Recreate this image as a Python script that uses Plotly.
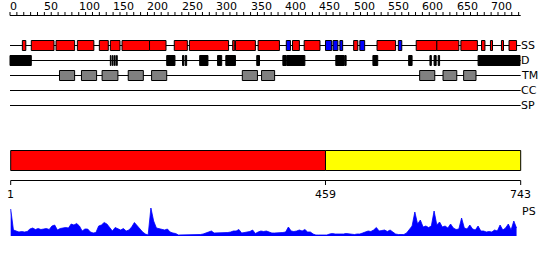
import plotly.graph_objects as go

# ---------------- data ----------------
seq_len = 743
ruler_ticks = list(range(0, 741, 10))
ruler_labels = [0, 50, 100, 150, 200, 250, 300, 350, 400, 450, 500, 550, 600, 650, 700]

# secondary structure: start, end, type (H = helix red, E = strand blue)
ss_start = [18, 31, 67, 98, 130, 146, 163, 203, 239, 261, 324, 328, 361, 402, 411, 428, 459, 470, 480,
            500, 509, 534, 565, 591, 621, 656, 686, 699, 715, 726]
ss_end = [23, 64, 94, 122, 143, 160, 203, 227, 258, 318, 327, 357, 392, 408, 421, 451, 468, 477, 484,
          506, 516, 561, 570, 621, 653, 680, 691, 702, 718, 737]
ss_type = ["H", "H", "H", "H", "H", "H", "H", "H", "H", "H", "H", "H", "H", "E", "H", "H", "E", "E", "E",
           "H", "E", "H", "E", "H", "H", "H", "H", "H", "H", "H"]

# disorder
d_start = [0, 146, 149, 152, 155, 228, 251, 255, 276, 302, 314, 359, 397, 403, 474, 487, 528, 580, 611, 617, 623, 681]
d_end = [31, 147, 150, 153, 156, 240, 253, 257, 288, 308, 328, 363, 402, 429, 486, 489, 535, 585, 613, 620, 625, 742]

# transmembrane
tm_start = [72, 104, 134, 172, 206, 338, 366, 596, 630, 660]
tm_end = [94, 126, 157, 194, 228, 360, 385, 618, 650, 678]

# domain bar
dom_start = [1, 459]
dom_end = [459, 743]
dom_color = ["#FF0000", "#FFFF00"]
dom_ticks = [1, 459, 743]

track_names = ["SS", "D", "TM", "CC", "SP"]

# PS profile (sampled every 4 residues)
ps_values = [
    27, 6, 5, 4, 4.5, 4, 4.5, 7, 8, 6.5, 7.5, 6.5, 7, 7.5, 6.5, 10, 11, 6, 7.5, 8,
    8.5, 8, 12, 11, 12.5, 10, 5, 7, 7, 4, 3, 3.5, 10, 11, 13.5, 12, 9, 5, 8.5, 7,
    6, 7.5, 5, 6, 9, 13.5, 10, 7, 4, 2, 1, 28, 15, 8, 7.5, 7, 6, 7, 4, 3,
    2.5, 1, 1, 1.5, 1.5, 1.5, 1, 1.5, 1.5, 1.5, 2, 3, 3.5, 5, 3, 3, 3.5, 3, 3, 3.5,
    4, 5, 5, 6.5, 3, 3.5, 4, 4.5, 6, 2.5, 4, 5, 4.5, 5, 4, 3, 3,
    3, 3, 3.5, 4, 9, 5, 4.5, 5, 6, 5, 6.5, 4, 4, 2, 1, 1, 1, 1, 1,
    2, 2.5, 2, 2, 1.5, 2, 2.5, 2, 1.5, 1.5, 2, 2, 3, 4, 5, 4.5, 6, 8.5, 5, 5.5,
    6, 4.5, 6, 4, 2, 1.5, 1.5, 1.5, 3, 6, 10, 24, 12, 16, 9, 10, 8.5, 10, 25, 11,
    14, 9, 10, 8, 12, 8, 6.5, 7, 18, 8, 7, 11, 7, 6, 10, 5, 5, 4, 4.5, 4,
    6, 5, 11, 6, 8, 12, 6, 15, 8,
]
ps_residues = list(range(1, 1 + 4 * len(ps_values), 4))

# ---------------- figure ----------------
W, H = 550, 260
k = 510.0 / 742.0           # px per residue
x0 = -10.0 / k
x1 = x0 + W / k

shapes = []
annotations = []
FONT = dict(family="DejaVu Sans", size=11, color="black")


def line(xa, ya, xb, yb, color="black", w=1):
    shapes.append(dict(type="line", xref="x", yref="y", x0=xa, y0=ya, x1=xb, y1=yb,
                       line=dict(color=color, width=w)))


def rect(xa, xb, ya, yb, fill):
    shapes.append(dict(type="rect", xref="x", yref="y", x0=xa, x1=xb, y0=ya, y1=yb,
                       fillcolor=fill, line=dict(color="black", width=1)))


# top ruler
line(0, 15.5, seq_len, 15.5)
for t in ruler_ticks:
    line(t, 12, t, 15.5)
for t in ruler_labels:
    annotations.append(dict(x=t, y=6.5, xref="x", yref="y", text=str(t), showarrow=False,
                            xanchor="left", yanchor="middle", xshift=-2, font=FONT))

# tracks
track_y = [45.5, 60.5, 75.5, 90.5, 105.5]
for name, ty in zip(track_names, track_y):
    line(0, ty, seq_len, ty)
    annotations.append(dict(x=seq_len, y=ty, xref="x", yref="y", text=name, showarrow=False,
                            xanchor="left", yanchor="middle", xshift=-2, font=FONT))

for s, e, t in zip(ss_start, ss_end, ss_type):
    rect(s, e, track_y[0] - 5, track_y[0] + 5, "#FF0000" if t == "H" else "#0000FF")
for s, e in zip(d_start, d_end):
    rect(s, e, track_y[1] - 5, track_y[1] + 5, "#000000")
for s, e in zip(tm_start, tm_end):
    rect(s, e, track_y[2] - 5, track_y[2] + 5, "#808080")

# domain bar
for s, e, c in zip(dom_start, dom_end, dom_color):
    rect(s, e, 150.5, 170.5, c)

# bottom ruler
line(dom_ticks[0], 180.5, dom_ticks[-1], 180.5)
for t in dom_ticks:
    line(t, 180.5, t, 185)
    annotations.append(dict(x=t, y=194, xref="x", yref="y", text=str(t), showarrow=False,
                            xanchor="center", yanchor="middle", font=FONT))

annotations.append(dict(x=seq_len, y=211, xref="x", yref="y", text="PS", showarrow=False,
                        xanchor="left", yanchor="middle", xshift=-1, font=FONT))

fig = go.Figure()
fig.add_trace(go.Scatter(x=ps_residues, y=ps_values, xaxis="x", yaxis="y2", mode="lines",
                         line=dict(color="#0000FF", width=0.8), fill="tozeroy",
                         fillcolor="#0000FF", hoverinfo="skip", showlegend=False))

fig.update_layout(
    width=W, height=H, margin=dict(l=0, r=0, t=0, b=0),
    paper_bgcolor="white", plot_bgcolor="white",
    xaxis=dict(range=[x0, x1], visible=False, fixedrange=True),
    yaxis=dict(range=[H, 0], domain=[0, 1], visible=False, fixedrange=True),
    yaxis2=dict(range=[0, 30], domain=[(H - 236.0) / H, (H - 206.0) / H], anchor="x",
                visible=False, fixedrange=True),
    shapes=shapes, annotations=annotations, showlegend=False,
)

fig.write_html("out.html", config={"displayModeBar": False})
